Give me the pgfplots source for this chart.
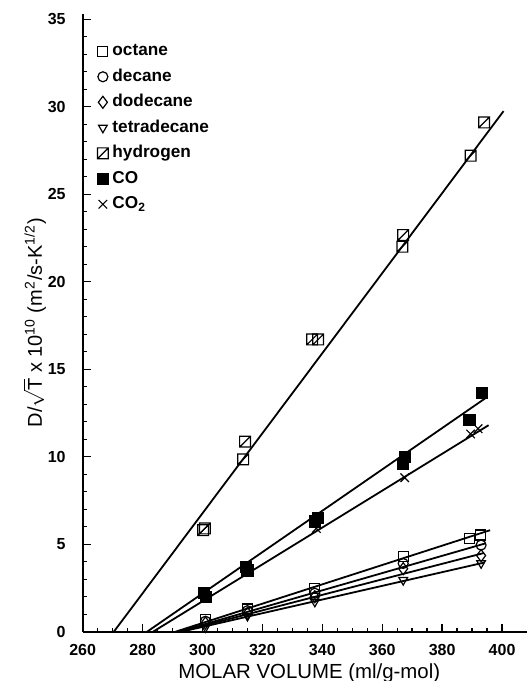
\documentclass[border=0pt]{standalone}
\usepackage{pgfplots}
\pgfplotsset{compat=1.18}
\usepackage{fontspec}
\setmainfont{Liberation Sans}
\pgfdeclareplotmark{hsquare}{%
  \pgfpathrectangle{\pgfqpoint{-\pgfplotmarksize}{-\pgfplotmarksize}}{\pgfqpoint{2\pgfplotmarksize}{2\pgfplotmarksize}}%
  \pgfpathmoveto{\pgfqpoint{-\pgfplotmarksize}{-\pgfplotmarksize}}%
  \pgfpathlineto{\pgfqpoint{\pgfplotmarksize}{\pgfplotmarksize}}%
  \pgfusepathqstroke}
\begin{document}
\begin{tikzpicture}
\begin{axis}[
  name=ax,
  width=222.15pt, height=308.9pt, scale only axis,
  xmin=260, xmax=408.3, ymin=0, ymax=35.3,
  axis x line=bottom, axis y line=left,
  axis line style={-, line width=1pt},
  xtick={260,280,...,400}, ytick={0,5,...,35},
  minor x tick num=3, minor y tick num=4,
  tick align=inside,
  major tick length=4pt, minor tick length=2pt,
  tick style={black, line width=0.7pt},
  /pgf/number format/assume math mode=true,
  ticklabel style={font=\bfseries\fontsize{8}{9.5}\selectfont},
  yticklabel style={xshift=-5pt},
  xticklabel style={yshift=-3pt},
  xlabel={MOLAR VOLUME (ml/g-mol)},
  ylabel={D/$\sqrt{\hbox{T}}$ x 10\textsuperscript{10} (m\textsuperscript{2}/s-K\textsuperscript{1/2})},
  xlabel style={font=\fontsize{10.2}{12}\selectfont, at={(ticklabel cs:0.51)}, anchor=near ticklabel, yshift=3pt},
  ylabel style={font=\fontsize{10}{12}\selectfont, at={(axis description cs:-0.0916,0.5)}, anchor=base},
  legend style={draw=none, fill=none, font=\bfseries\fontsize{8.6}{10}\selectfont,
    at={(rel axis cs:0,1)}, anchor=north west, xshift=7.3pt, yshift=-14pt,
    row sep=3.45pt, inner sep=0pt, outer sep=0pt,
    nodes={text height=6.5pt, text depth=1.8pt, inner ysep=0.5pt},
    cells={anchor=west}},
  legend cell align=left,
  mark size=2.5pt,
  every axis plot/.append style={black},
]
% data marks
\addplot[only marks, mark=square, mark options={line width=0.6pt}] coordinates {
 (301,0.7) (315,1.3) (337.5,2.45) (367,4.3) (389,5.34) (392.8,5.53)};
\addlegendentry{octane}
\addplot[only marks, mark=o, mark options={line width=0.6pt}] coordinates {
 (301,0.6) (315,1.2) (337.5,2.2) (367,3.9) (393,4.95)};
\addlegendentry{decane}
\addplot[only marks, mark=diamond, mark options={line width=0.6pt}, mark size=3pt] coordinates {
 (301,0.5) (315,1.05) (337.5,2.0) (367,3.6) (393,4.35)};
\addlegendentry{dodecane}
\addplot[only marks, mark=triangle, mark options={rotate=180, line width=0.6pt}] coordinates {
 (301,0.25) (315,0.9) (337.5,1.71) (367,2.95) (393,3.91)};
\addlegendentry{tetradecane}
\addplot[only marks, mark=hsquare, mark size=2.7pt, mark options={line width=0.6pt}] coordinates {
 (300.2,5.8) (300.8,5.9) (313.6,9.85) (314.2,10.86) (336.6,16.7) (338.6,16.7)
 (366.7,22.0) (367.0,22.67) (389.5,27.2) (394,29.1)};
\addlegendentry{hydrogen}
\addplot[only marks, mark=square*, mark size=2.8pt] coordinates {
 (300.5,2.2) (301,2.0) (314.5,3.7) (315,3.5) (337.5,6.3) (338.5,6.5)
 (367,9.6) (367.5,10.0) (389.1,12.1) (393.2,13.66)};
\addlegendentry{CO}
\addplot[only marks, mark=x, mark size=3pt, mark options={line width=0.6pt}] coordinates {
 (301,2.0) (315,3.4) (338,5.9) (367.5,8.8) (389.5,11.3) (392,11.6)};
\addlegendentry{CO\textsubscript{2}}
% fitted lines
\addplot[line width=0.9pt, forget plot] coordinates {(270.4,0) (400.5,29.75)};
\addplot[line width=0.9pt, forget plot] coordinates {(281.5,0) (394.5,13.35)};
\addplot[line width=0.9pt, forget plot] coordinates {(283.5,0) (395.5,11.8)};
\addplot[line width=0.9pt, forget plot] coordinates {(291,0) (396,5.8)};
\addplot[line width=0.9pt, forget plot] coordinates {(292,0) (394.5,5.05)};
\addplot[line width=0.9pt, forget plot] coordinates {(292.5,0) (394,4.5)};
\addplot[line width=0.9pt, forget plot] coordinates {(293,0) (394,3.95)};
\draw[gray!70, line width=0.4pt] (rel axis cs:1,0) -- (rel axis cs:1,0.72);
\end{axis}
\pgfresetboundingbox
\path ([xshift=-41.35pt,yshift=-24.65pt]ax.south west) rectangle ([xshift=1pt,yshift=7pt]ax.north east);
\end{tikzpicture}
\end{document}
